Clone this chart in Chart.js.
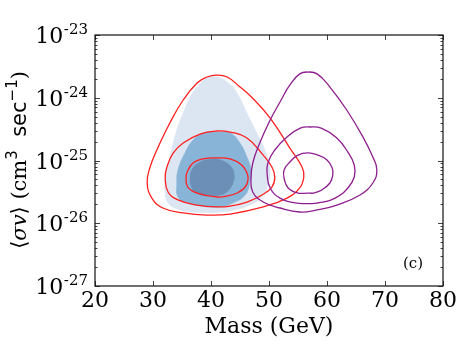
<!DOCTYPE html>
<html>
<head>
<meta charset="utf-8">
<script src="https://cdn.jsdelivr.net/npm/chart.js@4"></script>
<style>
  body { margin: 0; background: #fff; }
</style>
</head>
<body>
<canvas id="chart" width="471" height="353"></canvas>
<script>
// ------------------------------------------------------------
// Axis ticks
// ------------------------------------------------------------
const massTicks = [20, 30, 40, 50, 60, 70, 80];
const sigmaTicks = [1e-27, 1e-26, 1e-25, 1e-24, 1e-23];
const sigmaExps = ['-27', '-26', '-25', '-24', '-23'];
const panelTag = '(c)';

// ------------------------------------------------------------
// Contours: mass (GeV) and <sigma v> (cm^3/s), traced as closed loops
// ------------------------------------------------------------
// shaded regions (blue)
const lightMass = [40.3, 36.9, 34.1, 32.6, 32.1, 32.1, 32.6, 33.3, 34.1, 35.2, 36.4, 37.6, 39.3, 41.0, 42.8, 44.5, 46.2, 47.9, 49.3, 50.2, 49.8, 48.8, 46.7, 44.1];
const lightSv   = [1.46e-26, 1.51e-26, 1.69e-26, 2.10e-26, 3.03e-26, 4.89e-26, 9.12e-26, 1.64e-25, 3.06e-25, 5.71e-25, 1.03e-24, 1.48e-24, 2.06e-24, 2.14e-24, 1.78e-24, 1.19e-24, 5.71e-25, 2.74e-25, 1.47e-25, 7.06e-26, 4.07e-26, 2.62e-26, 1.95e-26, 1.63e-26];

const midMass = [39.3, 35.9, 34.3, 34.1, 34.3, 35.5, 36.9, 38.6, 41.0, 43.3, 45.0, 46.2, 46.9, 46.7, 45.9, 43.8, 41.6];
const midSv   = [1.82e-26, 2.10e-26, 2.62e-26, 4.38e-26, 7.06e-26, 1.32e-25, 2.12e-25, 2.74e-25, 2.84e-25, 2.74e-25, 1.90e-25, 1.14e-25, 7.06e-26, 4.38e-26, 2.82e-26, 2.10e-26, 1.82e-26];

const darkMass = [39.5, 37.8, 36.7, 36.4, 36.7, 37.8, 40.2, 42.1, 43.5, 44.0, 43.8, 42.9, 41.6];
const darkSv   = [2.72e-26, 2.92e-26, 3.65e-26, 5.26e-26, 7.06e-26, 9.12e-26, 1.06e-25, 9.82e-26, 7.87e-26, 5.87e-26, 4.38e-26, 3.27e-26, 2.82e-26];

// red lines
const redOuterMass = [43.3, 39.3, 35.2, 31.7, 29.8, 29.0, 29.5, 30.9, 32.9, 35.2, 37.6, 39.3, 40.9, 42.8, 45.0, 47.1, 50.2, 53.6, 55.7, 56.0, 55.3, 53.1, 49.0];
const redOuterSv   = [1.40e-26, 1.35e-26, 1.46e-26, 1.75e-26, 2.52e-26, 4.38e-26, 7.87e-26, 1.64e-25, 3.96e-25, 9.21e-25, 1.72e-24, 2.14e-24, 2.30e-24, 2.14e-24, 1.48e-24, 1.00e-24, 4.75e-25, 1.58e-25, 7.87e-26, 5.46e-26, 3.65e-26, 2.52e-26, 1.82e-26];

const redMidMass = [41.0, 37.6, 34.3, 32.6, 32.1, 32.4, 33.5, 35.2, 38.1, 41.0, 43.3, 46.2, 49.0, 50.5, 51.0, 50.5, 48.8, 46.2, 43.3];
const redMidSv   = [1.82e-26, 1.95e-26, 2.35e-26, 3.15e-26, 5.26e-26, 7.87e-26, 1.32e-25, 1.90e-25, 2.64e-25, 2.95e-25, 2.84e-25, 2.29e-25, 1.22e-25, 7.87e-26, 5.46e-26, 3.78e-26, 2.82e-26, 2.18e-26, 1.88e-26];

const redInnerMass = [41.0, 37.6, 36.0, 35.7, 35.9, 36.9, 38.6, 41.0, 43.3, 45.3, 46.2, 46.4, 45.9, 44.5, 42.8];
const redInnerSv   = [2.62e-26, 3.03e-26, 3.78e-26, 5.26e-26, 6.56e-26, 9.12e-26, 1.06e-25, 1.10e-25, 1.06e-25, 8.48e-26, 6.32e-26, 5.07e-26, 3.78e-26, 3.03e-26, 2.72e-26];

// purple lines
const purOuterMass = [55.3, 51.9, 49.0, 47.2, 46.9, 47.2, 48.4, 50.2, 51.9, 53.6, 55.3, 56.7, 58.3, 60.5, 63.4, 66.2, 67.9, 68.6, 67.9, 65.7, 61.7, 58.3];
const purOuterSv   = [1.51e-26, 1.75e-26, 2.18e-26, 3.15e-26, 5.26e-26, 9.12e-26, 1.90e-25, 4.42e-25, 8.55e-25, 1.60e-24, 2.40e-24, 2.57e-24, 2.40e-24, 1.48e-24, 6.38e-25, 2.37e-25, 1.14e-25, 7.06e-26, 4.38e-26, 2.82e-26, 1.95e-26, 1.63e-26];

const purMidMass = [54.8, 51.9, 50.2, 49.7, 49.8, 51.0, 53.1, 55.3, 57.1, 59.1, 61.7, 63.6, 64.7, 64.7, 63.6, 61.4, 58.3];
const purMidSv   = [2.10e-26, 2.52e-26, 3.65e-26, 5.87e-26, 9.12e-26, 1.47e-25, 2.37e-25, 3.25e-25, 3.42e-25, 3.25e-25, 2.29e-25, 1.36e-25, 8.48e-26, 5.46e-26, 3.65e-26, 2.52e-26, 2.10e-26];

const purInnerMass = [56.7, 55.0, 53.3, 52.6, 52.6, 53.6, 55.0, 56.7, 58.4, 60.0, 60.9, 61.0, 60.5, 59.1, 57.6];
const purInnerSv   = [3.03e-26, 3.03e-26, 3.65e-26, 5.26e-26, 7.06e-26, 9.46e-26, 1.22e-25, 1.32e-25, 1.22e-25, 1.02e-25, 7.59e-26, 5.87e-26, 4.38e-26, 3.39e-26, 3.03e-26];

const TENSION = 0.45;

// closed loop for a filled region: repeat the first point
function loop(mass, sv) {
    const pts = mass.map((m, i) => ({ x: m, y: sv[i] }));
    pts.push(pts[0]);
    return pts;
}

// closed loop for a line: pad with neighbours so the seam stays smooth,
// the two padding segments are hidden
function wrapLoop(mass, sv) {
    const pts = mass.map((m, i) => ({ x: m, y: sv[i] }));
    const n = pts.length;
    return [pts[n - 1], ...pts, pts[0], pts[1]];
}

function lineSet(mass, sv, color) {
    const data = wrapLoop(mass, sv);
    const last = data.length - 1;
    return {
        data: data,
        showLine: true,
        borderColor: color,
        borderWidth: 1.3,
        pointRadius: 0,
        tension: TENSION,
        fill: false,
        segment: {
            borderColor: c => (c.p0DataIndex === 0 || c.p1DataIndex === last) ? 'rgba(0,0,0,0)' : undefined
        }
    };
}

function areaSet(mass, sv, color) {
    return {
        data: loop(mass, sv),
        showLine: true,
        borderColor: color,
        borderWidth: 0.5,
        backgroundColor: color,
        pointRadius: 0,
        tension: TENSION,
        fill: 'shape'
    };
}

const RED = '#ff2020';
const PURPLE = '#8e1e8e';

// Axis frame, inward ticks and labels
const framePlugin = {
    id: 'frame',
    afterDatasetsDraw(chart) {
        const { ctx, chartArea: a, scales: { x, y } } = chart;
        ctx.save();
        ctx.strokeStyle = '#111';
        ctx.lineWidth = 1.2;
        ctx.strokeRect(a.left, a.top, a.right - a.left, a.bottom - a.top);

        ctx.lineWidth = 0.8;
        ctx.beginPath();
        // x major ticks (bottom and top)
        massTicks.forEach(v => {
            const px = Math.round(x.getPixelForValue(v)) + 0.5;
            ctx.moveTo(px, a.bottom); ctx.lineTo(px, a.bottom - 5);
            ctx.moveTo(px, a.top); ctx.lineTo(px, a.top + 5);
        });
        // y major + minor ticks (left and right)
        for (let e = -27; e <= -23; e++) {
            for (let m = 1; m <= 9; m++) {
                const v = m * Math.pow(10, e);
                if (v > 1.0001e-23) break;
                const py = Math.round(y.getPixelForValue(v)) + 0.5;
                const len = m === 1 ? 5 : 2.5;
                ctx.moveTo(a.left, py); ctx.lineTo(a.left + len, py);
                ctx.moveTo(a.right, py); ctx.lineTo(a.right - len, py);
            }
        }
        ctx.stroke();

        ctx.fillStyle = '#000';
        // x tick labels
        ctx.font = '22px "DejaVu Serif"';
        ctx.textAlign = 'center';
        ctx.textBaseline = 'alphabetic';
        massTicks.forEach(v => {
            ctx.fillText(String(v), x.getPixelForValue(v), a.bottom + 21);
        });

        // y tick labels: 10^exp
        sigmaTicks.forEach((v, i) => {
            const py = y.getPixelForValue(v);
            ctx.font = '15px "DejaVu Serif"';
            ctx.textAlign = 'right';
            const supW = ctx.measureText(sigmaExps[i]).width;
            ctx.fillText(sigmaExps[i], a.left - 7, py - 1);
            ctx.font = '22px "DejaVu Serif"';
            ctx.fillText('10', a.left - 7 - supW - 0.5, py + 8);
        });

        // x title
        ctx.font = '22px "DejaVu Serif"';
        ctx.textAlign = 'center';
        ctx.fillText('Mass (GeV)', (a.left + a.right) / 2, a.bottom + 47);

        // panel tag
        ctx.font = '15px "DejaVu Serif"';
        ctx.fillText(panelTag, 413, 268);

        // y title (rotated, mixed fonts)
        const parts = [
            { t: '\u27E8', f: '21px "DejaVu Sans"', dy: 0 },
            { t: '\u03C3v', f: 'italic 21px "DejaVu Serif"', dy: 0 },
            { t: '\u27E9', f: '21px "DejaVu Sans"', dy: 0 },
            { t: ' (cm', f: '21px "DejaVu Serif"', dy: 0 },
            { t: '3', f: '15px "DejaVu Sans"', dy: -9 },
            { t: '  sec', f: '21px "DejaVu Sans"', dy: 0 },
            { t: '\u22121', f: '15px "DejaVu Sans"', dy: -9 },
            { t: ')', f: '21px "DejaVu Serif"', dy: 0 }
        ];
        let total = 0;
        parts.forEach(p => { ctx.font = p.f; p.w = ctx.measureText(p.t).width; total += p.w; });
        ctx.translate(26, 160);
        ctx.rotate(-Math.PI / 2);
        ctx.textAlign = 'left';
        let cx = -total / 2;
        parts.forEach(p => {
            ctx.font = p.f;
            ctx.fillText(p.t, cx, p.dy);
            cx += p.w;
        });
        ctx.restore();
    }
};

new Chart(document.getElementById('chart'), {
    type: 'scatter',
    data: {
        // first dataset is drawn on top
        datasets: [
            lineSet(purInnerMass, purInnerSv, PURPLE),
            lineSet(purMidMass, purMidSv, PURPLE),
            lineSet(purOuterMass, purOuterSv, PURPLE),
            lineSet(redInnerMass, redInnerSv, RED),
            lineSet(redMidMass, redMidSv, RED),
            lineSet(redOuterMass, redOuterSv, RED),
            areaSet(darkMass, darkSv, '#6b8fb7'),
            areaSet(midMass, midSv, '#88b5d7'),
            areaSet(lightMass, lightSv, '#dce6f2')
        ]
    },
    options: {
        responsive: false,
        animation: false,
        layout: { padding: { left: 95, top: 35, right: 28, bottom: 67 } },
        plugins: {
            legend: { display: false },
            tooltip: { enabled: false }
        },
        scales: {
            x: { type: 'linear', min: 20, max: 80, display: false },
            y: { type: 'logarithmic', min: 1e-27, max: 1e-23, display: false }
        }
    },
    plugins: [framePlugin]
});
</script>
</body>
</html>
